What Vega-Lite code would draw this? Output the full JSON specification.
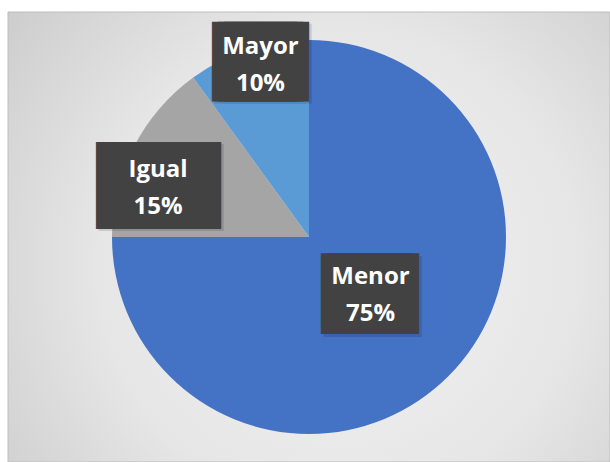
{
  "$schema": "https://vega.github.io/schema/vega-lite/v6.json",
  "width": 602,
  "height": 450,
  "autosize": {"type": "none"},
  "padding": {"left": 8, "top": 12, "right": 0, "bottom": 0},
  "background": "white",
  "config": {"view": {"stroke": null}},
  "layer": [
    {
      "data": {"values": [{"bg": 1}]},
      "mark": {
        "type": "rect",
        "fill": {
          "gradient": "radial",
          "x1": 0.55, "y1": 0.55, "r1": 0,
          "x2": 0.55, "y2": 0.55, "r2": 0.8,
          "stops": [
            {"offset": 0, "color": "#f3f3f3"},
            {"offset": 0.5, "color": "#e6e6e6"},
            {"offset": 1, "color": "#c4c4c4"}
          ]
        },
        "stroke": "#bdbdbd",
        "strokeWidth": 1
      },
      "encoding": {}
    },
    {
      "data": {
        "values": [
          {"cat": "Menor", "value": 75, "orden": 1},
          {"cat": "Igual", "value": 15, "orden": 2},
          {"cat": "Mayor", "value": 10, "orden": 3}
        ]
      },
      "transform": [
        {"calculate": "datum.cat + '\\n' + datum.value + '%'", "as": "label"}
      ],
      "encoding": {
        "theta": {"field": "value", "type": "quantitative", "stack": true},
        "order": {"field": "orden", "type": "quantitative", "sort": "ascending"},
        "detail": {"field": "cat", "type": "nominal"}
      },
      "layer": [
        {
          "mark": {"type": "arc", "outerRadius": 197},
          "encoding": {
            "color": {
              "field": "cat",
              "type": "nominal",
              "scale": {"domain": ["Menor", "Igual", "Mayor"], "range": ["#4472C4", "#A5A5A5", "#5B9BD5"]},
              "legend": null
            }
          }
        },
        {
          "mark": {"type": "text", "radius": 82, "dx": 5.5, "dy": 2, "font": "DejaVu Sans Mono", "fontSize": 10, "color": "#000000", "stroke": "#000000", "strokeWidth": 80, "strokeJoin": "miter", "opacity": 0.12, "align": "center", "baseline": "middle"},
          "encoding": {"text": {"condition": {"test": "datum.cat === 'Menor'", "value": "───"}, "value": ""}}
        },
        {
          "mark": {"type": "text", "radius": 161, "dx": -4.5, "dy": 24.1, "font": "DejaVu Sans Mono", "fontSize": 10.8, "color": "#000000", "stroke": "#000000", "strokeWidth": 86, "strokeJoin": "miter", "opacity": 0.12, "align": "center", "baseline": "middle"},
          "encoding": {"text": {"condition": {"test": "datum.cat === 'Igual'", "value": "──────"}, "value": ""}}
        },
        {
          "mark": {"type": "text", "radius": 183, "dx": 10.5, "dy": 1.5, "font": "DejaVu Sans Mono", "fontSize": 10, "color": "#000000", "stroke": "#000000", "strokeWidth": 79, "strokeJoin": "miter", "opacity": 0.12, "align": "center", "baseline": "middle"},
          "encoding": {"text": {"condition": {"test": "datum.cat === 'Mayor'", "value": "───"}, "value": ""}}
        },
        {
          "mark": {"type": "text", "radius": 82, "dx": 3, "dy": -0.5, "font": "DejaVu Sans Mono", "fontSize": 10, "color": "#424242", "stroke": "#424242", "strokeWidth": 80, "strokeJoin": "miter", "align": "center", "baseline": "middle"},
          "encoding": {"text": {"condition": {"test": "datum.cat === 'Menor'", "value": "───"}, "value": ""}}
        },
        {
          "mark": {"type": "text", "radius": 161, "dx": -7, "dy": 21.6, "font": "DejaVu Sans Mono", "fontSize": 10.8, "color": "#424242", "stroke": "#424242", "strokeWidth": 86, "strokeJoin": "miter", "align": "center", "baseline": "middle"},
          "encoding": {"text": {"condition": {"test": "datum.cat === 'Igual'", "value": "──────"}, "value": ""}}
        },
        {
          "mark": {"type": "text", "radius": 183, "dx": 8, "dy": -1, "font": "DejaVu Sans Mono", "fontSize": 10, "color": "#424242", "stroke": "#424242", "strokeWidth": 79, "strokeJoin": "miter", "align": "center", "baseline": "middle"},
          "encoding": {"text": {"condition": {"test": "datum.cat === 'Mayor'", "value": "───"}, "value": ""}}
        },
        {
          "mark": {"type": "text", "radius": 82, "dx": 3.5, "dy": -17.9, "font": "Open Sans", "fontSize": 24, "fontWeight": "bold", "color": "white", "lineHeight": 37, "lineBreak": "\n", "align": "center", "baseline": "middle"},
          "encoding": {"text": {"condition": {"test": "datum.cat === 'Menor'", "field": "label"}, "value": ""}}
        },
        {
          "mark": {"type": "text", "radius": 161, "dx": -7.5, "dy": 5.9, "font": "Open Sans", "fontSize": 24, "fontWeight": "bold", "color": "white", "lineHeight": 37, "lineBreak": "\n", "align": "center", "baseline": "middle"},
          "encoding": {"text": {"condition": {"test": "datum.cat === 'Igual'", "field": "label"}, "value": ""}}
        },
        {
          "mark": {"type": "text", "radius": 183, "dx": 8, "dy": -15.6, "font": "Open Sans", "fontSize": 24, "fontWeight": "bold", "color": "white", "lineHeight": 37, "lineBreak": "\n", "align": "center", "baseline": "middle"},
          "encoding": {"text": {"condition": {"test": "datum.cat === 'Mayor'", "field": "label"}, "value": ""}}
        }
      ]
    }
  ]
}
